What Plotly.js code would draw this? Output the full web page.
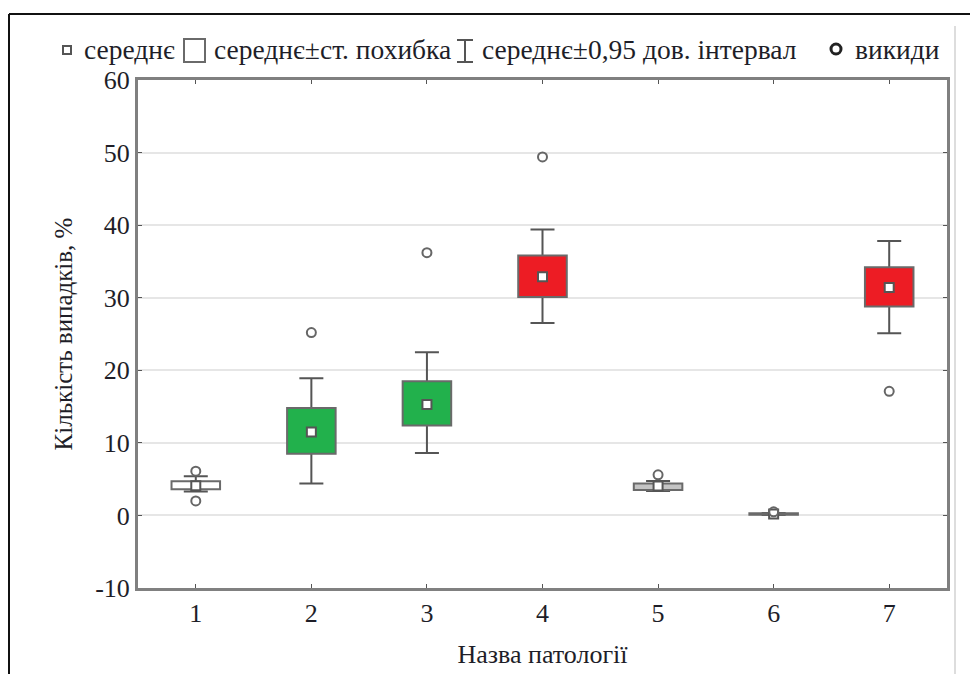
<!DOCTYPE html>
<html>
<head>
<meta charset="utf-8">
<script src="https://cdn.plot.ly/plotly-3.0.1.min.js"></script>
<style>html,body{margin:0;padding:0;background:#fff;}#chart{width:970px;height:674px;}</style>
</head>
<body>
<div id="chart"></div>
<script>
// ---- data ----
const categories = [1, 2, 3, 4, 5, 6, 7];
const tickLabels = ['1', '2', '3', '4', '5', '6', '7'];
const yTickValues = [-10, 0, 10, 20, 30, 40, 50, 60];
const yTickLabels = ['-10', '0', '10', '20', '30', '40', '50', '60'];
const meanValues = [4.1, 11.5, 15.3, 32.9, 4.05, 0.2, 31.4];
const seLow  = [3.6, 8.5, 12.4, 30.1, 3.5, 0.1, 28.8];
const seHigh = [4.7, 14.8, 18.5, 35.8, 4.4, 0.3, 34.2];
const ciLow  = [3.3, 4.4, 8.6, 26.5, 3.35, 0.05, 25.1];
const ciHigh = [5.4, 18.9, 22.5, 39.4, 4.75, 0.35, 37.8];
const outlierX = [1, 1, 2, 3, 4, 5, 6, 7];
const outlierY = [6.1, 2.0, 25.2, 36.2, 49.4, 5.6, 0.5, 17.1];
const boxColors = ['#ffffff', '#22b14c', '#22b14c', '#ed1c24', '#c4c4c4', '#555555', '#ed1c24'];
const legendLabels = ['середнє', 'середнє±ст. похибка', 'середнє±0,95 дов. інтервал', 'викиди'];
const yTitle = 'Кількість випадків, %';
const xTitle = 'Назва патології';

// ---- layout geometry ----
const W = 970, H = 674;
const L = 138, R = 947, T = 80, B = 588;
const px = x => (x - L) / (R - L);
const py = y => (B - y) / (B - T);
const FONT = 'Liberation Serif';
const TXT = '#1e1e28';
const GREY = '#6a6a6a';

const traces = [
  { // whiskers (0.95 CI) drawn under the boxes
    type: 'bar', x: categories, y: meanValues, width: 0.42,
    marker: { color: 'rgba(0,0,0,0)', line: { width: 0 } },
    error_y: {
      type: 'data', symmetric: false,
      array: ciHigh.map((v, i) => v - meanValues[i]),
      arrayminus: ciLow.map((v, i) => meanValues[i] - v),
      color: '#555555', thickness: 2, width: 12
    },
    showlegend: false, hoverinfo: 'skip'
  },
  { // mean ± standard error boxes
    type: 'bar', x: categories, base: seLow,
    y: seHigh.map((v, i) => v - seLow[i]), width: 0.42,
    marker: { color: boxColors, line: { color: GREY, width: 2 } },
    showlegend: false
  },
  { // means
    type: 'scatter', mode: 'markers', x: categories, y: meanValues,
    marker: { symbol: 'square', size: 9, color: '#ffffff', line: { color: '#555555', width: 2 } },
    showlegend: false
  },
  { // outliers
    type: 'scatter', mode: 'markers', x: outlierX, y: outlierY,
    marker: { symbol: 'circle-open', size: 9, color: '#666666', line: { width: 2 } },
    showlegend: false
  }
];

const legY = py(49);
const annotations = [
  { text: legendLabels[0], x: px(82), y: legY, xanchor: 'left' },
  { text: legendLabels[1], x: px(212), y: legY, xanchor: 'left' },
  { text: legendLabels[2], x: px(480), y: legY, xanchor: 'left' },
  { text: legendLabels[3], x: px(853), y: legY, xanchor: 'left' }
].map(a => Object.assign({
  xref: 'paper', yref: 'paper', yanchor: 'middle', showarrow: false,
  font: { family: FONT, size: 27.5, color: TXT }
}, a));

const pshape = (o) => Object.assign({ xref: 'paper', yref: 'paper', layer: 'above' }, o);
const shapes = [
  // outer frame
  pshape({ type: 'line', x0: px(9), x1: px(972), y0: py(14), y1: py(14), line: { color: '#111', width: 2 } }),
  pshape({ type: 'line', x0: px(9), x1: px(9), y0: py(14), y1: py(676), line: { color: '#111', width: 2 } }),
  pshape({ type: 'line', x0: px(955), x1: px(955), y0: py(26), y1: py(676), line: { color: '#dddddd', width: 2 } }),
  // legend symbols
  pshape({ type: 'rect', x0: px(63), x1: px(71), y0: py(46), y1: py(54), fillcolor: '#fff', line: { color: '#555', width: 2 } }),
  pshape({ type: 'rect', x0: px(184), x1: px(205), y0: py(39), y1: py(62), fillcolor: '#fff', line: { color: GREY, width: 2 } }),
  pshape({ type: 'line', x0: px(465), x1: px(465), y0: py(40), y1: py(62), line: { color: '#555', width: 2 } }),
  pshape({ type: 'line', x0: px(457), x1: px(473), y0: py(40), y1: py(40), line: { color: '#555', width: 2 } }),
  pshape({ type: 'line', x0: px(457), x1: px(473), y0: py(62), y1: py(62), line: { color: '#555', width: 2 } }),
  pshape({ type: 'circle', x0: px(831), x1: px(841), y0: py(44), y1: py(54), line: { color: '#222', width: 3 } })
];

const layout = {
  width: W, height: H,
  margin: { l: L, r: W - R, t: T, b: H - B, pad: 0 },
  paper_bgcolor: '#ffffff', plot_bgcolor: '#ffffff',
  barmode: 'overlay',
  showlegend: false,
  font: { family: FONT, color: TXT },
  xaxis: {
    range: [0.5, 7.5], tickvals: categories, ticktext: tickLabels,
    showgrid: false, zeroline: false,
    showline: true, mirror: 'ticks', linecolor: '#808080', linewidth: 3,
    ticks: 'inside', ticklen: 4, tickwidth: 1, tickcolor: '#555',
    tickfont: { family: FONT, size: 26, color: TXT },
    title: { text: xTitle, font: { family: FONT, size: 26, color: TXT }, standoff: 18 }
  },
  yaxis: {
    range: [-10, 60], tickvals: yTickValues, ticktext: yTickLabels,
    showgrid: true, gridcolor: '#e6e6e6', gridwidth: 2, zeroline: false,
    showline: true, mirror: 'ticks', linecolor: '#808080', linewidth: 3,
    ticks: 'inside', ticklen: 4, tickwidth: 1, tickcolor: '#555',
    tickfont: { family: FONT, size: 26, color: TXT },
    title: { text: yTitle, font: { family: FONT, size: 25, color: TXT }, standoff: 16 }
  },
  annotations: annotations,
  shapes: shapes
};

Plotly.newPlot('chart', traces, layout, { displayModeBar: false, responsive: false });
</script>
</body>
</html>
